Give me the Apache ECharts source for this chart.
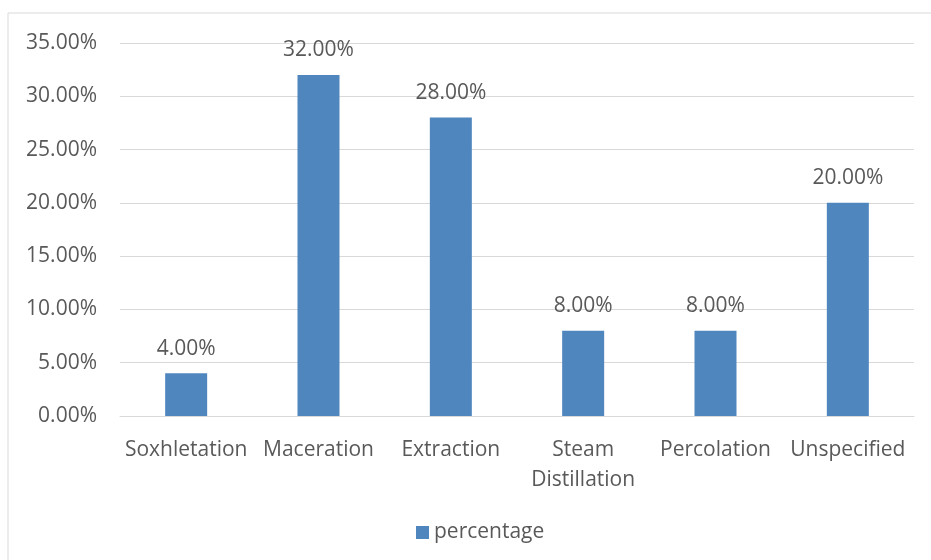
<!DOCTYPE html>
<html>
<head>
<meta charset="utf-8">
<script src="https://cdn.jsdelivr.net/npm/echarts@6/dist/echarts.min.js"></script>
<style>
  html, body { margin: 0; padding: 0; background: #fff; }
  #chart { width: 931px; height: 560px; }
</style>
</head>
<body>
<div id="chart"></div>
<script>
// 数据
var categories = ['Soxhletation', 'Maceration', 'Extraction', 'Steam\nDistillation', 'Percolation', 'Unspecified'];
var percentage = [4, 32, 28, 8, 8, 20];
var yTicks = [0, 5, 10, 15, 20, 25, 30, 35];

var textColor = '#595959';
var fontFamily = '"Open Sans", sans-serif';

var chart = echarts.init(document.getElementById('chart'));
chart.setOption({
  animation: false,
  textStyle: { fontFamily: fontFamily },
  graphic: [{
    type: 'rect',
    shape: { x: 8, y: 13, width: 940, height: 560 },
    style: { fill: 'none', stroke: '#d9d9d9', lineWidth: 1 },
    z: -1
  }],
  legend: {
    bottom: 12,
    left: 411,
    itemWidth: 13,
    itemHeight: 13,
    icon: 'rect',
    itemGap: 6,
    textStyle: { color: textColor, fontSize: 21, fontFamily: fontFamily },
    data: ['percentage']
  },
  grid: { left: 120, right: 17, top: 43, bottom: 144 },
  xAxis: {
    type: 'category',
    data: categories,
    axisTick: { show: false },
    axisLine: { lineStyle: { color: '#d9d9d9', width: 1 } },
    axisLabel: { color: textColor, fontSize: 21, margin: 19, lineHeight: 30, interval: 0 }
  },
  yAxis: {
    type: 'value',
    min: yTicks[0],
    max: yTicks[yTicks.length - 1],
    interval: 5,
    axisLine: { show: false },
    axisTick: { show: false },
    splitLine: { lineStyle: { color: '#d9d9d9', width: 1 } },
    axisLabel: {
      color: textColor, fontSize: 21, margin: 23,
      formatter: function (v) { return v.toFixed(2) + '%'; }
    }
  },
  series: [{
    name: 'percentage',
    type: 'bar',
    data: percentage,
    barWidth: 42,
    itemStyle: { color: '#4f86be' },
    label: {
      show: true,
      position: 'top',
      distance: 14,
      color: textColor,
      fontSize: 21,
      formatter: function (p) { return p.value.toFixed(2) + '%'; }
    }
  }]
});
</script>
</body>
</html>
